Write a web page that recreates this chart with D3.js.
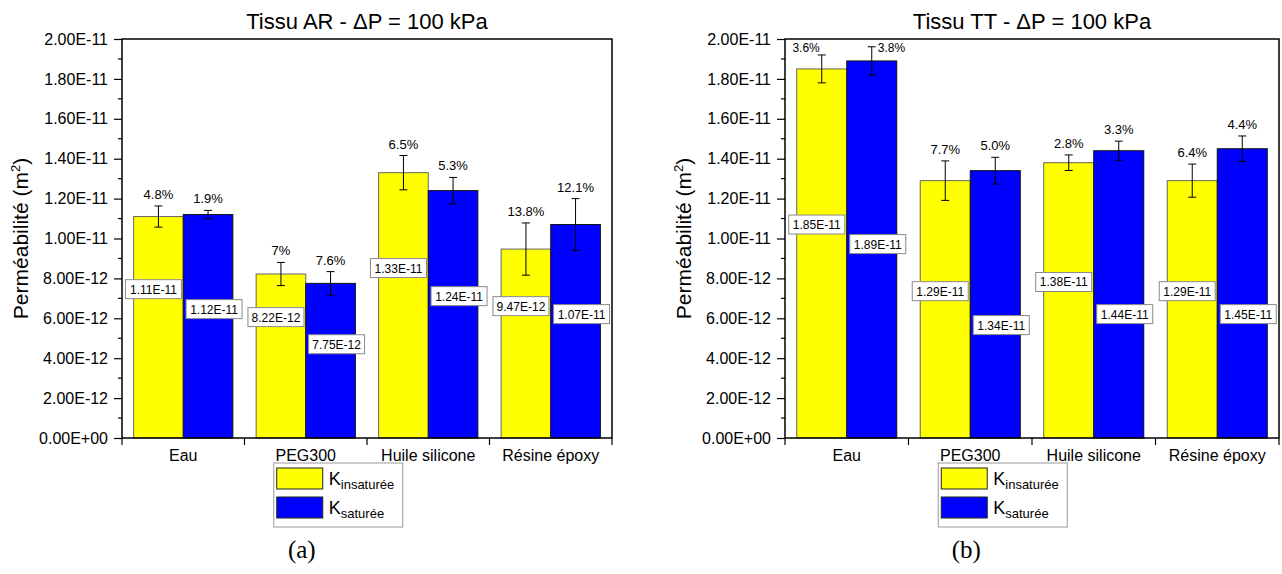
<!DOCTYPE html>
<html>
<head>
<meta charset="utf-8">
<script src="https://cdn.jsdelivr.net/npm/d3@7"></script>
<style>
  body { margin: 0; background: #fff; }
  text { font-family: "Liberation Sans", Arial, sans-serif; fill: #000; }
</style>
</head>
<body>
<script>
// categories and tick labels
var categories = ["Eau", "PEG300", "Huile silicone", "Résine époxy"];
var yTickValues = [0, 2e-12, 4e-12, 6e-12, 8e-12, 1e-11, 1.2e-11, 1.4e-11, 1.6e-11, 1.8e-11, 2e-11];
var yTickLabels = ["0.00E+00", "2.00E-12", "4.00E-12", "6.00E-12", "8.00E-12", "1.00E-11",
                   "1.20E-11", "1.40E-11", "1.60E-11", "1.80E-11", "2.00E-11"];

// (a) Tissu AR
var arInsat    = [1.11e-11, 8.22e-12, 1.33e-11, 9.47e-12];
var arSat      = [1.12e-11, 7.75e-12, 1.24e-11, 1.07e-11];
var arInsatErr = [0.53e-12, 0.58e-12, 0.86e-12, 1.31e-12];
var arSatErr   = [0.21e-12, 0.59e-12, 0.66e-12, 1.30e-12];
var arInsatPct = ["4.8%", "7%", "6.5%", "13.8%"];
var arSatPct   = ["1.9%", "7.6%", "5.3%", "12.1%"];

// (b) Tissu TT
var ttInsat    = [1.85e-11, 1.29e-11, 1.38e-11, 1.29e-11];
var ttSat      = [1.89e-11, 1.34e-11, 1.44e-11, 1.45e-11];
var ttInsatErr = [0.70e-12, 0.99e-12, 0.39e-12, 0.83e-12];
var ttSatErr   = [0.71e-12, 0.67e-12, 0.48e-12, 0.64e-12];
var ttInsatPct = ["3.6%", "7.7%", "2.8%", "6.4%"];
var ttSatPct   = ["3.8%", "5.0%", "3.3%", "4.4%"];

// where the value boxes sit (axis units), as placed by hand in the original
var arBoxInsat = [7.46e-12, 6.06e-12, 8.52e-12, 6.61e-12];
var arBoxSat   = [6.46e-12, 4.70e-12, 7.11e-12, 6.21e-12];
var ttBoxInsat = [10.70e-12, 7.36e-12, 7.82e-12, 7.36e-12];
var ttBoxSat   = [9.72e-12, 5.66e-12, 6.21e-12, 6.21e-12];

var W = 1282, H = 574;
var svg = d3.select("body").append("svg").attr("width", W).attr("height", H);

var fmt = function(v){ return d3.format(".2e")(v).toUpperCase(); };

function drawChart(cfg) {
    var top = 39, bottom = 438;
    var x = d3.scaleBand().domain(categories).range([cfg.left, cfg.right])
              .paddingInner(0.19).paddingOuter(0.095);
    var xs = d3.scaleBand().domain([0, 1]).range([0, x.bandwidth()]);
    var y = d3.scaleLinear().domain([0, 2e-11]).range([bottom, top]);
    var g = svg.append("g");

    var series = [
        {vals: cfg.insat, err: cfg.insatErr, pct: cfg.insatPct, box: cfg.boxInsat, color: "#ffff00", k: 0},
        {vals: cfg.sat, err: cfg.satErr, pct: cfg.satPct, box: cfg.boxSat, color: "#0000ff", k: 1}
    ];

    series.forEach(function(s){
        var grp = g.append("g");
        var rows = categories.map(function(c, i){
            return {c: c, v: s.vals[i], e: s.err[i], p: s.pct[i], b: s.box[i]};
        });
        var cx = function(d){ return x(d.c) + xs(s.k) + xs.bandwidth() / 2; };

        grp.selectAll("rect.bar").data(rows).enter().append("rect")
            .attr("class", "bar")
            .attr("x", function(d){ return x(d.c) + xs(s.k); })
            .attr("y", function(d){ return y(d.v); })
            .attr("width", xs.bandwidth())
            .attr("height", function(d){ return y(0) - y(d.v); })
            .attr("fill", s.color)
            .attr("stroke", s.k === 0 ? "#666" : "#111")
            .attr("stroke-width", 1);

        // error bars
        var eb = grp.selectAll("g.err").data(rows).enter().append("g").attr("class", "err")
            .attr("stroke", "#000").attr("stroke-width", 1);
        eb.append("line")
            .attr("x1", cx).attr("x2", cx)
            .attr("y1", function(d){ return y(d.v + d.e); })
            .attr("y2", function(d){ return y(d.v - d.e); });
        [1, -1].forEach(function(sign){
            eb.append("line")
                .attr("x1", function(d){ return cx(d) - 4; })
                .attr("x2", function(d){ return cx(d) + 4; })
                .attr("y1", function(d){ return y(d.v + sign * d.e); })
                .attr("y2", function(d){ return y(d.v + sign * d.e); });
        });

        // percent labels
        grp.selectAll("text.pct").data(rows).enter().append("text")
            .attr("class", "pct")
            .style("font-size", "13px")
            .each(function(d){
                var t = d3.select(this);
                var by = y(d.v + d.e) - 7;
                if (by < top + 15) {
                    // too close to the frame, pushed aside
                    t.attr("y", top + 13)
                     .style("font-size", "12px")
                     .attr("x", s.k === 0 ? cx(d) - 2 : cx(d) + 6)
                     .attr("text-anchor", s.k === 0 ? "end" : "start");
                } else {
                    t.attr("y", by).attr("x", cx(d)).attr("text-anchor", "middle");
                }
            })
            .text(function(d){ return d.p; });

        // value boxes
        var vb = grp.selectAll("g.vbox").data(rows).enter().append("g").attr("class", "vbox")
            .attr("transform", function(d){
                return "translate(" + (cx(d) + (s.k === 0 ? -5 : 6)) + "," + y(d.b) + ")";
            });
        vb.append("rect")
            .attr("x", -28).attr("y", -9.5).attr("width", 56).attr("height", 19)
            .attr("fill", "#fff").attr("stroke", "#8a8a8a").attr("stroke-width", 1);
        vb.append("text")
            .attr("text-anchor", "middle").attr("y", 4.5)
            .style("font-size", "12px")
            .text(function(d){ return fmt(d.v); });
    });

    // frame
    g.append("rect")
        .attr("x", cfg.left).attr("y", top)
        .attr("width", cfg.right - cfg.left).attr("height", bottom - top)
        .attr("fill", "none").attr("stroke", "#000").attr("stroke-width", 1.5);

    // y axis
    var yAxis = d3.axisLeft(y).tickValues(yTickValues)
        .tickFormat(function(d, i){ return yTickLabels[i]; })
        .tickSize(8).tickPadding(6);
    var ya = g.append("g").attr("transform", "translate(" + cfg.left + ",0)").call(yAxis);
    ya.select(".domain").remove();
    ya.selectAll("text").style("font-size", "16px").style("font-family", "Liberation Sans, Arial, sans-serif");
    ya.selectAll("line").attr("stroke-width", 1.2);
    // minor ticks
    var minor = d3.range(1, 20, 2).map(function(i){ return i * 1e-12; });
    g.selectAll("line.minor" + cfg.left).data(minor).enter().append("line")
        .attr("x1", cfg.left - 4).attr("x2", cfg.left)
        .attr("y1", function(d){ return y(d); }).attr("y2", function(d){ return y(d); })
        .attr("stroke", "#000").attr("stroke-width", 1.2);

    // x axis: ticks at category boundaries, labels centered
    var bounds = d3.range(0, categories.length + 1).map(function(i){ return cfg.left + i * (cfg.right - cfg.left) / categories.length; });
    g.selectAll("line.xt" + cfg.left).data(bounds).enter().append("line")
        .attr("x1", function(d){ return d; }).attr("x2", function(d){ return d; })
        .attr("y1", bottom).attr("y2", bottom + 7)
        .attr("stroke", "#000").attr("stroke-width", 1.2);
    g.selectAll("text.cat" + cfg.left).data(categories).enter().append("text")
        .attr("x", function(d){ return x(d) + x.bandwidth() / 2; })
        .attr("y", bottom + 23)
        .attr("text-anchor", "middle")
        .style("font-size", "16px")
        .text(function(d){ return d; });

    // title
    g.append("text")
        .attr("x", (cfg.left + cfg.right) / 2).attr("y", 29)
        .attr("text-anchor", "middle")
        .style("font-size", "22px")
        .text(cfg.title);

    // y label
    var yl = g.append("text")
        .attr("transform", "translate(" + (cfg.left - 94) + "," + ((top + bottom) / 2) + ") rotate(-90)")
        .attr("text-anchor", "middle")
        .style("font-size", "21px");
    yl.append("tspan").text("Perméabilité (m");
    yl.append("tspan").attr("dy", -8).style("font-size", "13px").text("2");
    yl.append("tspan").attr("dy", 8).text(")");

    // legend
    var lx = x("PEG300") + x.bandwidth() / 2 - 32, ly = 463;
    var lg = g.append("g").attr("transform", "translate(" + lx + "," + ly + ")");
    lg.append("rect").attr("width", 129).attr("height", 64)
        .attr("fill", "#fff").attr("stroke", "#999").attr("stroke-width", 1);
    var items = [{c: "#ffff00", sub: "insaturée"}, {c: "#0000ff", sub: "saturée"}];
    items.forEach(function(it, i){
        lg.append("rect").attr("x", 3).attr("y", 5 + i * 29).attr("width", 46).attr("height", 21)
            .attr("fill", it.c).attr("stroke", "#222").attr("stroke-width", 1);
        var t = lg.append("text").attr("x", 55).attr("y", 22 + i * 29).style("font-size", "18px");
        t.append("tspan").text("K");
        t.append("tspan").attr("dy", 4).style("font-size", "13px").text(it.sub);
    });

    // panel letter
    svg.append("text")
        .attr("x", x("PEG300") + x.bandwidth() / 2 - 4).attr("y", 558)
        .attr("text-anchor", "middle")
        .style("font-family", "Liberation Serif, Times New Roman, serif")
        .style("font-size", "25px")
        .text(cfg.letter);
}

drawChart({left: 122, right: 612, title: "Tissu AR - \u0394P = 100 kPa", letter: "(a)",
    insat: arInsat, sat: arSat, insatErr: arInsatErr, satErr: arSatErr,
    insatPct: arInsatPct, satPct: arSatPct, boxInsat: arBoxInsat, boxSat: arBoxSat});
drawChart({left: 785, right: 1279, title: "Tissu TT - \u0394P = 100 kPa", letter: "(b)",
    insat: ttInsat, sat: ttSat, insatErr: ttInsatErr, satErr: ttSatErr,
    insatPct: ttInsatPct, satPct: ttSatPct, boxInsat: ttBoxInsat, boxSat: ttBoxSat});
</script>
</body>
</html>
